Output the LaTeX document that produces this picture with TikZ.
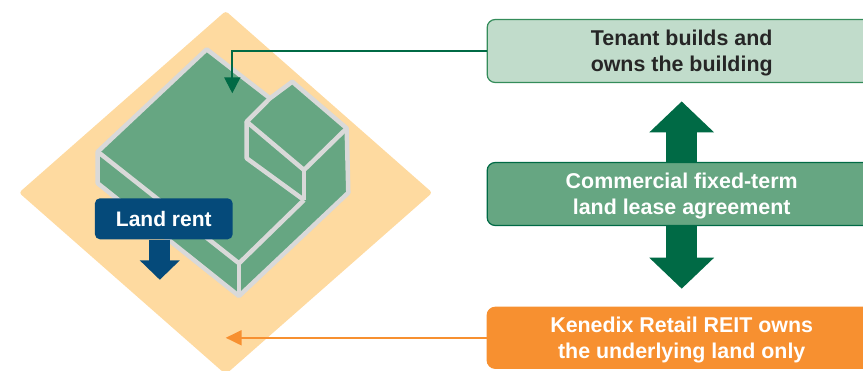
\documentclass[tikz,border=0pt]{standalone}
\usepackage{fontspec}
\setmainfont{Liberation Sans}
\usetikzlibrary{arrows.meta}
\definecolor{landfill}{RGB}{254,218,160}
\definecolor{bldggreen}{RGB}{102,166,130}
\definecolor{bldgedge}{RGB}{217,217,217}
\definecolor{deepgreen}{RGB}{0,106,69}
\definecolor{palegreen}{RGB}{193,220,203}
\definecolor{midgreen}{RGB}{52,140,90}
\definecolor{navy}{RGB}{5,74,122}
\definecolor{reitorange}{RGB}{247,144,48}
\definecolor{darktext}{RGB}{38,38,38}

\begin{document}
\begin{tikzpicture}[x=1pt, y=-1pt,
    infobox/.style={draw=#1, line width=1.2pt, rounded corners=8pt,
                    minimum width=389pt, minimum height=63pt, inner sep=0pt, text depth=-1.5pt,
                    align=center, font=\bfseries\fontsize{21.4}{26}\selectfont},
    edge/.style={bldgedge, line width=4.5pt, line join=round}
]
    \useasboundingbox (0,0) rectangle (863,370);
    \clip (0,0) rectangle (863,370);

    % Land plot
    \fill[landfill, rounded corners=3pt] (225.7,11) -- (432.3,192.7) -- (225.7,374.4) -- (19,192.7) -- cycle;

    % Building on the plot
    \filldraw[edge, fill=bldggreen] (206.7,49.3) -- (270,98.3) -- (292.3,81.7) -- (346.7,128.3)
        -- (348.3,192.7) -- (239,296) -- (97.7,183.3) -- (97.7,151.7) -- cycle;
    \draw[edge] (97.7,151.7) -- (239,263.3) -- (304,200);
    \draw[edge] (239,263.3) -- (239,296);
    \draw[edge] (270,98.3) -- (246.7,121.7) -- (304,170) -- (346.7,128.3);
    \draw[edge] (304,170) -- (304,200);
    \draw[edge] (246.7,121.7) -- (246.7,158.3) -- (304,200);

    % Boxes on the right
    \node[infobox=midgreen, fill=palegreen, text=darktext] (tenant) at (681.7,51) {Tenant builds and\\owns the building};
    \node[infobox=reitorange, fill=reitorange, text=white, minimum height=61pt] (reit) at (681.7,337.8) {Kenedix Retail REIT owns\\the underlying land only};

    % Lease arrow behind the middle box
    \draw[deepgreen, line width=31pt, shorten <=18.3pt, shorten >=18pt,
          {Triangle[width=63pt,length=31pt]}-{Triangle[width=63pt,length=31pt]}] (tenant.south) -- (reit.north);

    \node[infobox=deepgreen, fill=bldggreen, text=white] (lease) at (681.7,194) {Commercial fixed-term\\land lease agreement};

    % Pointers into the plot
    \coordinate (bldg) at (232.3,93.3);
    \coordinate (plot) at (225.7,337.8);
    \draw[deepgreen, line width=2pt, -{Triangle[width=16pt,length=16pt]}] (tenant.west) -| (bldg);
    \draw[reitorange, line width=2pt, -{Triangle[width=15pt,length=16pt]}] (reit.west) -- (plot);

    % Land rent
    \node[fill=navy, text=white, rounded corners=5pt, minimum width=137.7pt, minimum height=41pt,
          inner sep=0pt, font=\bfseries\fontsize{21}{26}\selectfont] (rent) at (163.8,218.8) {Land rent};
    \draw[navy, line width=20.7pt, -{Triangle[width=39pt,length=19.5pt]}] ([xshift=-4pt]rent.south) -- ++(0,40.3);
\end{tikzpicture}
\end{document}
